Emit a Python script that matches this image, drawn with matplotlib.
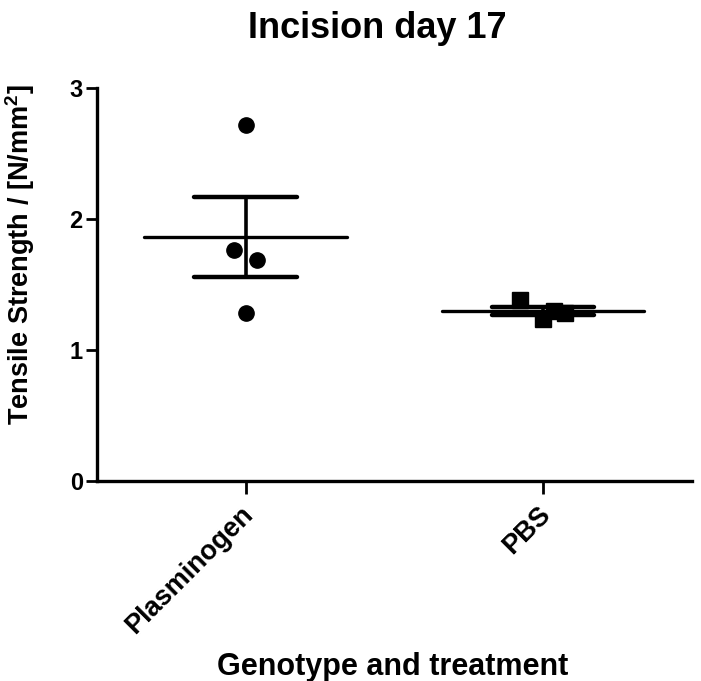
import numpy as np
import matplotlib
matplotlib.use('Agg')
import matplotlib.pyplot as plt
import matplotlib.transforms as mtransforms

plt.rcParams['font.family'] = ['Liberation Sans', 'DejaVu Sans']
plt.rcParams['font.weight'] = 'bold'
plt.rcParams['mathtext.fontset'] = 'custom'
plt.rcParams['mathtext.bf'] = 'Liberation Sans:bold'
plt.rcParams['mathtext.rm'] = 'Liberation Sans:bold'

# data
groups = ["Plasminogen", "PBS"]
plasminogen = [2.72, 1.76, 1.69, 1.28]
pbs = [1.385, 1.24, 1.28, 1.30]
# horizontal jitter of the points (category units)
plasminogen_dx = [0.0, -0.04, 0.037, 0.0]
pbs_dx = [-0.077, 0.0, 0.074, 0.037]

group_pos = [1, 2]

fig = plt.figure(figsize=(7.01, 6.81), dpi=100)
ax = fig.add_axes([0.138, 0.2937, 0.849, 0.5771])

series = [(plasminogen, plasminogen_dx, 'o'), (pbs, pbs_dx, 's')]
for xc, (vals, dx, mk) in zip(group_pos, series):
    vals = np.array(vals)
    mean = vals.mean()
    sem = vals.std(ddof=1) / np.sqrt(len(vals))
    ax.plot(xc + np.array(dx), vals, linestyle='none', marker=mk,
            color='black', markersize=11, zorder=3)
    # mean line
    ax.plot([xc - 0.34, xc + 0.34], [mean, mean], color='black', lw=2.4,
            solid_capstyle='round', zorder=4)
    # sem whisker and caps
    ax.plot([xc, xc], [mean - sem, mean + sem], color='black', lw=2.6, zorder=4)
    for yy in (mean - sem, mean + sem):
        ax.plot([xc - 0.172, xc + 0.172], [yy, yy], color='black', lw=3.2,
                solid_capstyle='round', zorder=4)

ax.set_xlim(0.5, 2.5)
ax.set_ylim(0, 3)
ax.set_yticks([0, 1, 2, 3])
ax.set_xticks(group_pos)
ax.set_xticklabels(groups, rotation=45, ha='right', rotation_mode='anchor',
                   fontsize=19.5, fontweight='bold')
ax.tick_params(axis='y', labelsize=17, length=8, width=2, pad=2)
ax.tick_params(axis='x', length=9, width=2, pad=6)
for lab in ax.get_yticklabels():
    lab.set_fontweight('bold')
# nudge the rotated labels a little to the left
shift = mtransforms.ScaledTranslation(-6 / 100, 0, fig.dpi_scale_trans)
for lab in ax.get_xticklabels():
    lab.set_transform(lab.get_transform() + shift)

for s in ['top', 'right']:
    ax.spines[s].set_visible(False)
for s in ['left', 'bottom']:
    ax.spines[s].set_linewidth(2.4)

ax.set_ylabel(r'Tensile Strength / [N/mm$^{\mathbf{2}}$]', fontsize=19.5,
              fontweight='bold', va='center')
ax.yaxis.set_label_coords(-0.128, 0.576)
ax.set_xlabel('Genotype and treatment', fontsize=22, fontweight='bold',
              va='center')
ax.xaxis.set_label_coords(0.498, -0.473)

fig.text(377 / 701, 1 - 28 / 681, 'Incision day 17', ha='center', va='center',
         fontsize=26, fontweight='bold')

fig.savefig('out.png', dpi=100)
